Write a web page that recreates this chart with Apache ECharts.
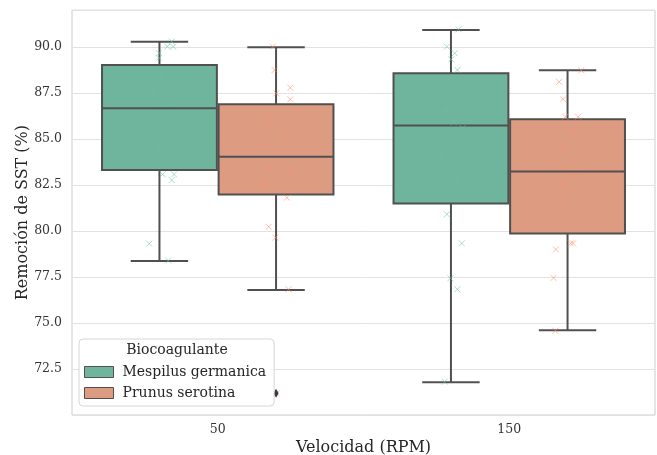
<!DOCTYPE html>
<html>
<head>
<meta charset="utf-8">
<script src="https://cdn.jsdelivr.net/npm/echarts@6/dist/echarts.min.js"></script>
<style>
  html, body { margin: 0; background: #fff; }
  #chart { width: 657px; height: 455px; }
</style>
</head>
<body>
<div id="chart"></div>
<script>
const velocities = ['50', '150']
const hues = ['Mespilus germanica', 'Prunus serotina']
const yTicks = [72.5, 75.0, 77.5, 80.0, 82.5, 85.0, 87.5, 90.0]

// [whisker low, Q1, median, Q3, whisker high] per velocity
const mespilusBox = [
  [78.37, 83.32, 86.67, 89.02, 90.29],
  [71.78, 81.50, 85.74, 88.57, 90.92]
]
const prunusBox = [
  [76.79, 81.99, 84.04, 86.89, 89.98],
  [74.60, 79.87, 83.24, 86.07, 88.73]
]
// fliers: [velocity index, value]
const prunusOutliers = [[0, 71.18]]

// single measurements per velocity
const mespilus50 = [90.29, 90.02, 90.02, 89.66, 89.39, 88.4, 87.6, 86.94, 86.4, 85.5, 84.6, 83.08, 83.08, 82.77, 79.31, 78.39]
const mespilus50Jitter = [0.042, 0.027, 0.047, -0.002, -0.002, 0.01, -0.02, 0.03, -0.01, 0.02, 0.0, 0.011, 0.05, 0.042, -0.035, 0.03]
const mespilus150 = [90.96, 90.02, 89.66, 89.33, 88.75, 87.8, 86.6, 85.9, 85.6, 84.2, 82.9, 80.91, 79.33, 77.43, 76.83, 71.81]
const mespilus150Jitter = [0.026, -0.014, 0.013, 0.001, 0.022, 0.03, -0.02, 0.01, 0.04, -0.03, 0.02, -0.014, 0.037, -0.002, 0.022, -0.022]
const prunus50 = [90.02, 88.75, 87.79, 87.48, 87.16, 86.18, 85.27, 84.62, 83.46, 83.1, 82.5, 81.81, 80.23, 79.64, 76.83, 71.18]
const prunus50Jitter = [-0.011, -0.005, 0.049, 0.001, 0.049, -0.025, 0.029, -0.034, -0.022, 0.049, -0.039, 0.037, -0.025, -0.002, 0.043, 0.002]
const prunus150 = [88.73, 88.10, 87.16, 86.21, 86.21, 85.4, 84.58, 83.48, 83.0, 82.62, 81.54, 79.33, 79.33, 79.0, 77.45, 74.58]
const prunus150Jitter = [0.047, -0.029, -0.015, -0.008, 0.036, 0.02, -0.021, -0.019, 0.03, -0.015, -0.01, 0.019, 0.011, -0.04, -0.048, -0.042]

const fills = ['#6fb49c', '#dd9c82']
const markColors = ['#66c2a5', '#fc8d62']
const edgeColor = '#505050'
const serif = 'DejaVu Serif'

function pointRows(values, jitter, idx) {
  return values.map((v, k) => [idx, v, jitter[k]])
}

function renderBox(offset, fill) {
  return function (params, api) {
    const i = api.value(0)
    const band = api.size([1, 0])[0]
    const cx = api.coord([i, api.value(3)])[0] + offset * band
    const half = band * 0.197
    const y = d => api.coord([i, api.value(d)])[1]
    const lo = y(1), q1 = y(2), med = y(3), q3 = y(4), hi = y(5)
    const line = { stroke: edgeColor, lineWidth: 2 }
    return {
      type: 'group',
      children: [
        { type: 'line', shape: { x1: cx, y1: q3, x2: cx, y2: hi }, style: line },
        { type: 'line', shape: { x1: cx, y1: q1, x2: cx, y2: lo }, style: line },
        { type: 'line', shape: { x1: cx - half / 2, y1: hi, x2: cx + half / 2, y2: hi }, style: line },
        { type: 'line', shape: { x1: cx - half / 2, y1: lo, x2: cx + half / 2, y2: lo }, style: line },
        { type: 'rect', shape: { x: cx - half, y: q3, width: half * 2, height: q1 - q3 },
          style: { fill: fill, stroke: edgeColor, lineWidth: 2 } },
        { type: 'line', shape: { x1: cx - half, y1: med, x2: cx + half, y2: med }, style: line }
      ]
    }
  }
}

function renderCross(offset, color) {
  return function (params, api) {
    const i = api.value(0)
    const band = api.size([1, 0])[0]
    const p = api.coord([i, api.value(1)])
    const x = p[0] + (offset + api.value(2)) * band
    const r = 3
    const st = { stroke: color, lineWidth: 1, opacity: 0.55 }
    return {
      type: 'group',
      children: [
        { type: 'line', shape: { x1: x - r, y1: p[1] - r, x2: x + r, y2: p[1] + r }, style: st },
        { type: 'line', shape: { x1: x - r, y1: p[1] + r, x2: x + r, y2: p[1] - r }, style: st }
      ]
    }
  }
}

function renderFlier(offset) {
  return function (params, api) {
    const i = api.value(0)
    const band = api.size([1, 0])[0]
    const p = api.coord([i, api.value(1)])
    const x = p[0] + offset * band
    return {
      type: 'polygon',
      shape: { points: [[x, p[1] - 4.5], [x + 2.6, p[1]], [x, p[1] + 4.5], [x - 2.6, p[1]]] },
      style: { fill: '#3a3a3a' }
    }
  }
}

const chart = echarts.init(document.getElementById('chart'))

chart.setOption({
  animation: false,
  backgroundColor: '#fff',
  grid: {
    left: 72, right: 2, top: 10.2, bottom: 40,
    outerBoundsMode: 'none',
    show: true, borderColor: '#cccccc', borderWidth: 1
  },
  xAxis: {
    type: 'category',
    data: velocities,
    name: 'Velocidad (RPM)',
    nameLocation: 'middle',
    nameGap: 25,
    nameMoveOverlap: false,
    nameTextStyle: { fontFamily: serif, fontSize: 16, color: '#262626' },
    axisLine: { show: false },
    axisTick: { show: false },
    axisLabel: { fontFamily: serif, fontSize: 12.5, color: '#333', margin: 8 },
    splitLine: { show: false }
  },
  yAxis: {
    type: 'value',
    min: 70,
    max: 92,
    interval: 2.5,
    name: 'Remoción de SST (%)',
    nameLocation: 'middle',
    nameGap: 41,
    nameMoveOverlap: false,
    nameTextStyle: { fontFamily: serif, fontSize: 16, color: '#262626' },
    axisLine: { show: false },
    axisTick: { show: false },
    axisLabel: {
      fontFamily: serif, fontSize: 12.5, color: '#333', margin: 10,
      formatter: v => yTicks.some(t => Math.abs(t - v) < 1e-6) ? v.toFixed(1) : ''
    },
    splitLine: { lineStyle: { color: '#e2e2e2', width: 1 } }
  },
  legend: {
    orient: 'vertical',
    left: 79,
    top: 339,
    padding: [26, 8, 6, 5],
    itemWidth: 29,
    itemHeight: 11,
    itemGap: 7,
    backgroundColor: 'rgba(255,255,255,0.85)',
    borderColor: '#d6d6d6',
    borderWidth: 1,
    borderRadius: 4,
    textStyle: { fontFamily: serif, fontSize: 14, color: '#262626', padding: [0, 0, 0, 4] },
    data: hues.map((h, k) => ({
      name: h, icon: 'rect',
      itemStyle: { color: fills[k], borderColor: edgeColor, borderWidth: 1 }
    }))
  },
  graphic: [{
    type: 'text', x: 177, y: 350, z: 100,
    style: {
      text: 'Biocoagulante', fontFamily: serif, fontSize: 14, fill: '#262626',
      align: 'center', verticalAlign: 'middle'
    }
  }],
  series: [
    {
      name: hues[0], type: 'custom', renderItem: renderBox(-0.2, fills[0]),
      itemStyle: { color: fills[0] },
      encode: { x: 0, y: [1, 2, 3, 4, 5] },
      data: mespilusBox.map((b, i) => [i].concat(b))
    },
    {
      name: hues[1], type: 'custom', renderItem: renderBox(0.2, fills[1]),
      itemStyle: { color: fills[1] },
      encode: { x: 0, y: [1, 2, 3, 4, 5] },
      data: prunusBox.map((b, i) => [i].concat(b))
    },
    {
      name: hues[0], type: 'custom', renderItem: renderCross(-0.2, markColors[0]),
      itemStyle: { color: fills[0] },
      encode: { x: 0, y: 1 },
      data: pointRows(mespilus50, mespilus50Jitter, 0).concat(pointRows(mespilus150, mespilus150Jitter, 1))
    },
    {
      name: hues[1], type: 'custom', renderItem: renderCross(0.2, markColors[1]),
      itemStyle: { color: fills[1] },
      encode: { x: 0, y: 1 },
      data: pointRows(prunus50, prunus50Jitter, 0).concat(pointRows(prunus150, prunus150Jitter, 1))
    },
    {
      name: hues[1], type: 'custom', renderItem: renderFlier(0.2),
      itemStyle: { color: fills[1] },
      encode: { x: 0, y: 1 },
      data: prunusOutliers
    }
  ]
})
</script>
</body>
</html>
